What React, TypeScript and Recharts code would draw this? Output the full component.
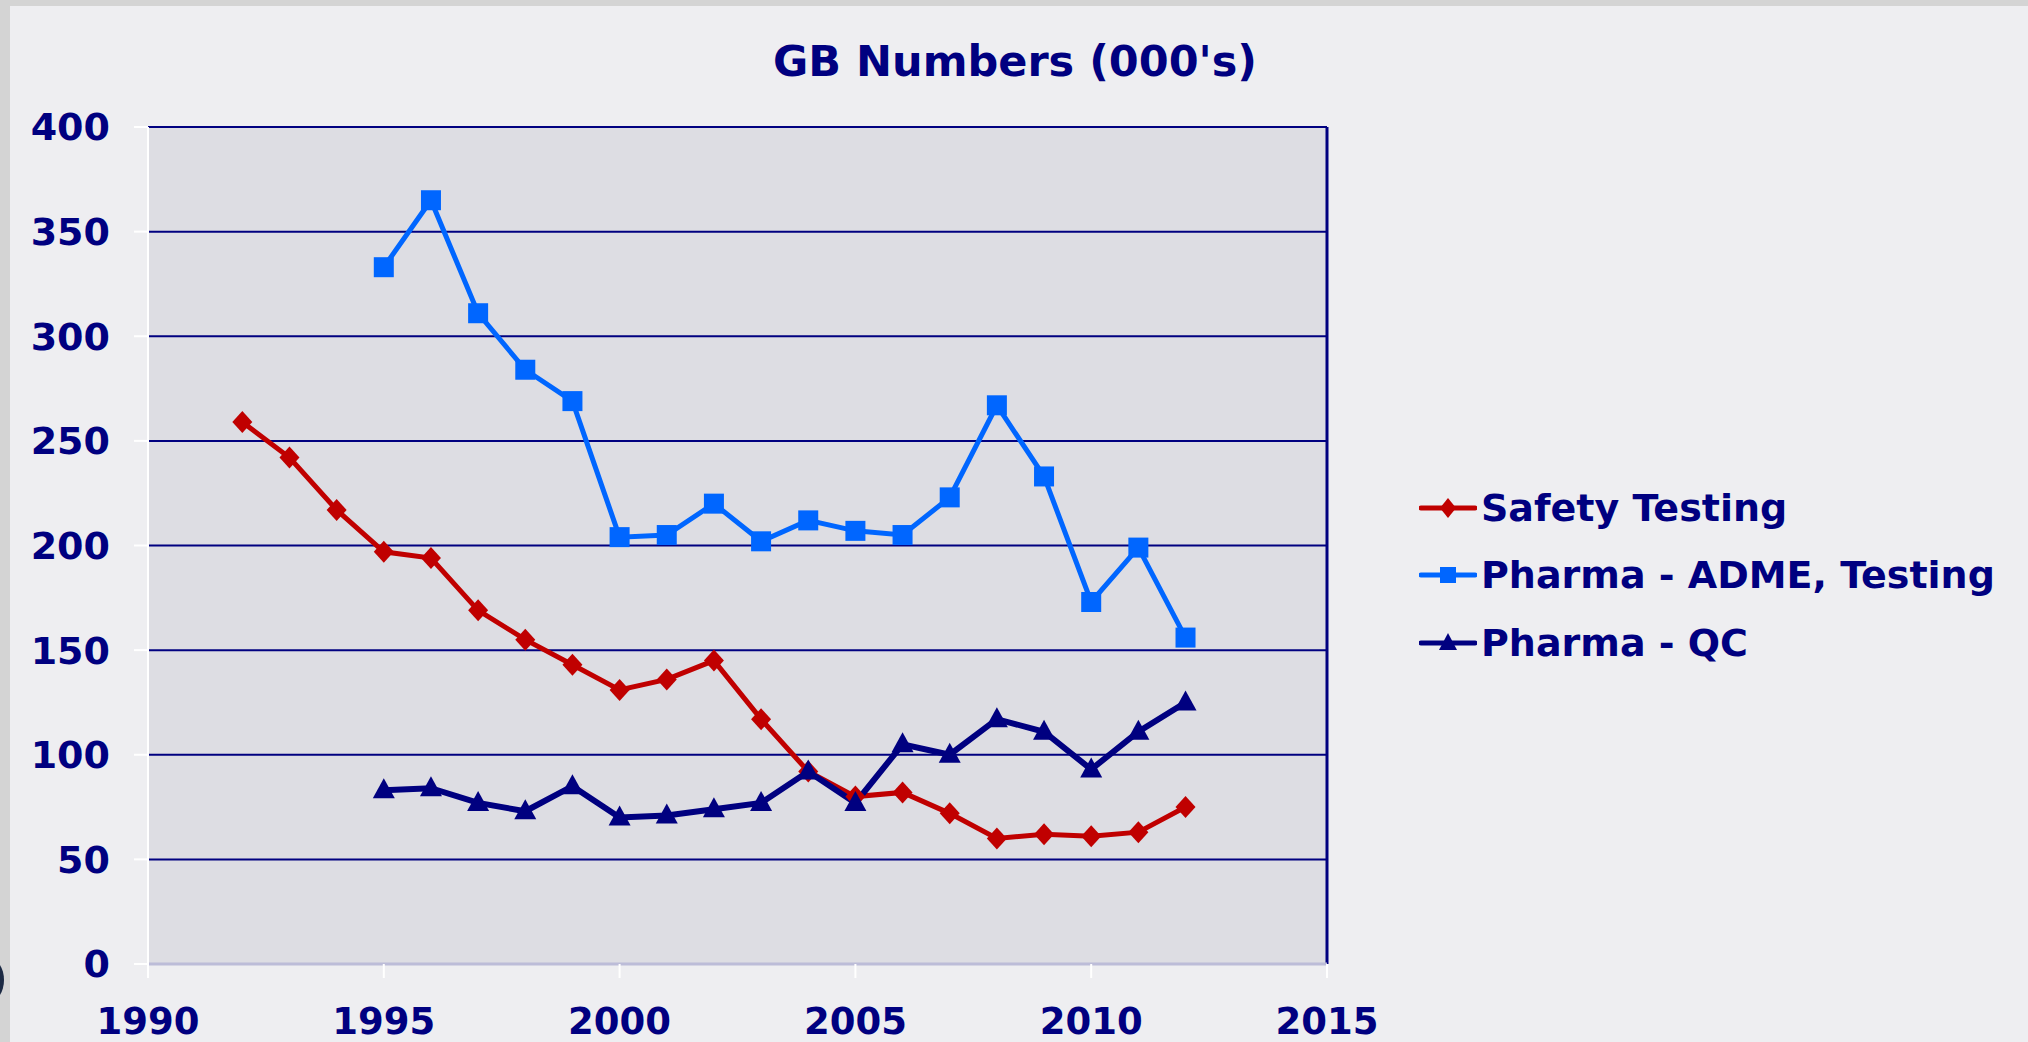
import React from 'react';
import { LineChart, Line, XAxis, YAxis, CartesianGrid, ReferenceLine, Legend } from 'recharts';

const years = [1992, 1993, 1994, 1995, 1996, 1997, 1998, 1999, 2000, 2001, 2002, 2003, 2004, 2005, 2006, 2007, 2008, 2009, 2010, 2011, 2012];
const safetyTesting = [259, 242, 217, 197, 194, 169, 155, 143, 131, 136, 145, 117, 92, 80, 82, 72, 60, 62, 61, 63, 75];
const pharmaAdme = [null, null, null, 333, 365, 311, 284, 269, 204, 205, 220, 202, 212, 207, 205, 223, 267, 233, 173, 199, 156];
const pharmaQc = [null, null, null, 83, 84, 77, 73, 85, 70, 71, 74, 77, 92, 77, 105, 100, 117, 111, 93, 111, 125];
const xTicks = [1990, 1995, 2000, 2005, 2010, 2015];
const yTicks = [0, 50, 100, 150, 200, 250, 300, 350, 400];
const seriesNames = ['Safety Testing', 'Pharma - ADME, Testing', 'Pharma - QC'];

const data = years.map((y, i) => ({
  year: y,
  safety: safetyTesting[i],
  adme: pharmaAdme[i],
  qc: pharmaQc[i],
}));

const NAVY = '#000080';
const RED = '#c00000';
const BLUE = '#0066ff';
const FONT = '"DejaVu Sans", Verdana, sans-serif';

const Diamond = (props: any) => {
  const { cx, cy, index } = props;
  if (cx == null || cy == null) return <g key={'d' + index} />;
  return <polygon key={'d' + index} points={`${cx},${cy - 11} ${cx + 10},${cy} ${cx},${cy + 11} ${cx - 10},${cy}`} fill={RED} />;
};
const Square = (props: any) => {
  const { cx, cy, index } = props;
  if (cx == null || cy == null) return <g key={'s' + index} />;
  return <rect key={'s' + index} x={cx - 10} y={cy - 10} width={20} height={20} fill={BLUE} />;
};
const Triangle = (props: any) => {
  const { cx, cy, index } = props;
  if (cx == null || cy == null) return <g key={'t' + index} />;
  return <polygon key={'t' + index} points={`${cx},${cy - 12} ${cx + 11},${cy + 8} ${cx - 11},${cy + 8}`} fill={NAVY} />;
};

const legendItems = [
  { name: seriesNames[0], color: RED, shape: 'diamond' },
  { name: seriesNames[1], color: BLUE, shape: 'square' },
  { name: seriesNames[2], color: NAVY, shape: 'triangle' },
];

const LegendContent = () => (
  <div style={{ fontFamily: FONT, fontWeight: 'bold', fontSize: 38, color: NAVY }}>
    {legendItems.map((it) => (
      <div key={it.name} style={{ display: 'flex', alignItems: 'center', height: 67.5, whiteSpace: 'nowrap' }}>
        <svg width={58} height={30} style={{ marginRight: 4 }}>
          <line x1={2} y1={15} x2={56} y2={15} stroke={it.color} strokeWidth={5} strokeLinecap="round" />
          {it.shape === 'diamond' && <polygon points="29,5 37,15 29,25 21,15" fill={it.color} />}
          {it.shape === 'square' && <rect x={21} y={7} width={16} height={16} fill={it.color} />}
          {it.shape === 'triangle' && <polygon points="29,5 38,22 20,22" fill={it.color} />}
        </svg>
        <span>{it.name}</span>
      </div>
    ))}
  </div>
);

export default function App() {
  return (
    <div style={{ position: 'absolute', left: 0, top: 0, width: 2028, height: 1042, background: '#d4d4d4', overflow: 'hidden' }}>
      <div style={{ position: 'absolute', left: 10, top: 6, width: 2018, height: 1036, background: '#eeeef1' }} />
      <div style={{ position: 'absolute', left: -26, top: 958, width: 30, height: 44, borderRadius: '50%', background: '#1c2a44' }} />
      <div style={{ position: 'absolute', left: 0, top: 36, width: 2030, textAlign: 'center', fontFamily: FONT, fontWeight: 'bold', fontSize: 43, color: NAVY, whiteSpace: 'nowrap' }}>
        <span style={{ position: 'absolute', left: 1015, transform: 'translateX(-50%)' }}>GB Numbers (000's)</span>
      </div>
      <div style={{ position: 'absolute', left: 0, top: 0 }}>
        <LineChart width={2028} height={1042} data={data} margin={{ top: 127, right: 701, bottom: 0, left: 0 }}>
          <CartesianGrid vertical={false} horizontal={true} stroke={NAVY} strokeWidth={2} fill="#dddde3" fillOpacity={1} />
          <XAxis
            dataKey="year"
            type="number"
            domain={[1990, 2015]}
            ticks={xTicks}
            interval={0}
            height={78}
            axisLine={{ stroke: '#bcbcd8', strokeWidth: 3 }}
            tickLine={{ stroke: '#ffffff', strokeWidth: 2 }}
            tickSize={14}
            tickMargin={30}
            tick={{ fill: NAVY, fontSize: 37, fontWeight: 'bold', fontFamily: FONT }}
          />
          <YAxis
            type="number"
            domain={[0, 400]}
            ticks={yTicks}
            interval={0}
            width={148}
            axisLine={{ stroke: '#ffffff', strokeWidth: 2 }}
            tickLine={{ stroke: '#ffffff', strokeWidth: 2 }}
            tickSize={14}
            tickMargin={24}
            tick={{ fill: NAVY, fontSize: 38, fontWeight: 'bold', fontFamily: FONT }}
          />
          <ReferenceLine x={2015} stroke={NAVY} strokeWidth={3} />
          <Line type="linear" dataKey="safety" name={seriesNames[0]} stroke={RED} strokeWidth={5} dot={<Diamond />} activeDot={false} isAnimationActive={false} />
          <Line type="linear" dataKey="adme" name={seriesNames[1]} stroke={BLUE} strokeWidth={5} dot={<Square />} activeDot={false} isAnimationActive={false} />
          <Line type="linear" dataKey="qc" name={seriesNames[2]} stroke={NAVY} strokeWidth={6} dot={<Triangle />} activeDot={false} isAnimationActive={false} />
          <Legend
            layout="vertical"
            align="center"
            verticalAlign="middle"
            content={<LegendContent />}
            wrapperStyle={{ left: 1419, top: 474, width: 600, height: 210 }}
          />
        </LineChart>
      </div>
    </div>
  );
}
